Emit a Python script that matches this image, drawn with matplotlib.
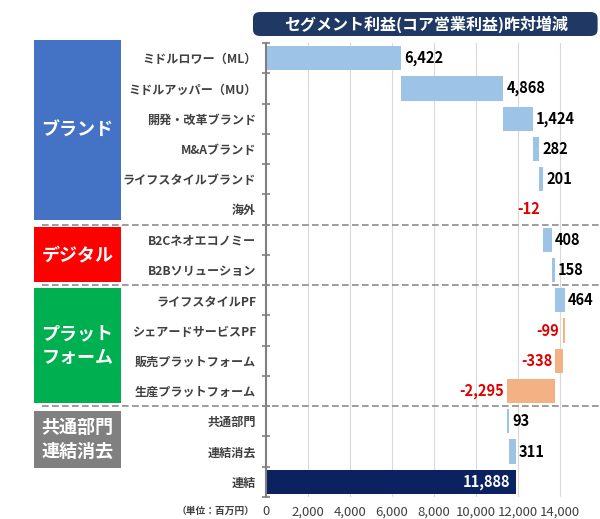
import matplotlib
matplotlib.use("Agg")
import matplotlib.pyplot as plt
import matplotlib.transforms as mtransforms
from matplotlib.patches import FancyBboxPatch, Rectangle
import numpy as np

plt.rcParams["font.family"] = ["Noto Sans CJK JP", "DejaVu Sans"]

# Segment profit change (million yen)
categories = [
    "ミドルロワー（ML）", "ミドルアッパー（MU）", "開発・改革ブランド", "M&Aブランド",
    "ライフスタイルブランド", "海外", "B2Cネオエコノミー", "B2Bソリューション",
    "ライフスタイルPF", "シェアードサービスPF", "販売プラットフォーム", "生産プラットフォーム",
    "共通部門", "連結消去", "連結",
]
changes = [6422, 4868, 1424, 282, 201, -12, 408, 158, 464, -99, -338, -2295, 93, 311]
total = 11888

groups = ["ブランド", "デジタル", "プラット\nフォーム", "共通部門\n連結消去"]
group_colors = ["#4472C4", "#FF0000", "#00B050", "#808080"]

xticks = [0, 2000, 4000, 6000, 8000, 10000, 12000, 14000]

POS = "#9DC3E6"
NEG = "#F4B183"
TOT = "#0B2160"

W, H = 600, 519
fig = plt.figure(figsize=(W / 100, H / 100), dpi=100)


def fx(px):
    return px / W


def fy(py):
    return 1 - py / H


ax_left, ax_right, ax_top, ax_bot = 266, 600, 43, 497
ax = fig.add_axes([fx(ax_left), fy(ax_bot), fx(ax_right - ax_left), (ax_bot - ax_top) / H])

n = len(categories)
y = np.arange(n)
starts = np.concatenate([[0], np.cumsum(changes)[:-1]])
bar_h = 0.8

for i, (s, c) in enumerate(zip(starts, changes)):
    col = POS if c >= 0 else NEG
    left = s if c >= 0 else s + c
    ax.barh(i, abs(c), left=left, height=bar_h, color=col, zorder=3)
    end = s + c
    if c >= 0:
        ax.text(end + 150, i, f"{c:,}", va="center", ha="left", fontsize=10.5,
                fontweight="bold", color="black", zorder=4)
    else:
        ax.text(end - 150, i, f"{c:,}", va="center", ha="right", fontsize=10.5,
                fontweight="bold", color="#E00000", zorder=4)

ax.barh(n - 1, total, left=0, height=bar_h, color=TOT, zorder=3)
ax.text(total - 250, n - 1, f"{total:,}", va="center", ha="right", fontsize=10.5,
        fontweight="bold", color="white", zorder=4)

ax.set_xlim(0, 15900)
ax.set_ylim(n - 0.5, -0.5)
ax.set_xticks(xticks)
ax.set_xticklabels([f"{v:,}" for v in xticks], fontsize=9.5, color="#404040")
ax.set_yticks(y)
ax.set_yticklabels(categories, fontsize=8.7, color="#404040", fontweight="bold")
ax.set_yticks(np.arange(-0.5, n, 1), minor=True)
ax.tick_params(axis="y", which="major", length=0, pad=7)
ax.tick_params(axis="y", which="minor", length=6, direction="inout", color="#808080", width=1.2)
ax.tick_params(axis="x", length=0, pad=6)
ax.grid(axis="x", color="#D9D9D9", linewidth=0.8, zorder=0)
for sp in ["top", "right", "bottom"]:
    ax.spines[sp].set_visible(False)
ax.spines["left"].set_color("#808080")
ax.spines["left"].set_linewidth(1.5)
ax.spines["left"].set_zorder(5)

# dashed separators between groups
blend = mtransforms.blended_transform_factory(fig.transFigure, ax.transData)
for yb in [5.5, 7.5, 11.5]:
    ax.plot([fx(42), fx(600)], [yb, yb], transform=blend, color="#8C8C8C",
            linestyle=(0, (4, 2)), linewidth=1.2, clip_on=False, zorder=6)

# group boxes
box_extents = [(-0.6, 5.35), (5.58, 7.4), (7.59, 11.39), (11.66, 13.54)]
for label, colr, (y0, y1) in zip(groups, group_colors, box_extents):
    rect = Rectangle((fx(34), y0), fx(121) - fx(34), y1 - y0, transform=blend,
                     facecolor=colr, edgecolor="none", clip_on=False)
    ax.add_artist(rect)
    ax.text(fx(77.5), (y0 + y1) / 2, label, transform=blend, ha="center", va="center",
            fontsize=13, fontweight="bold", color="white", linespacing=1.3, clip_on=False)

# title box
title_box = FancyBboxPatch((fx(253), fy(36)), fx(600) - fx(253) - 0.004, (36 - 12) / H,
                           boxstyle="round,pad=0,rounding_size=0.012",
                           transform=fig.transFigure, facecolor="#1F3864", edgecolor="none")
fig.patches.append(title_box)
fig.text(fx(426), fy(24), "セグメント利益(コア営業利益)昨対増減", ha="center", va="center",
         fontsize=11.5, fontweight="bold", color="white")

fig.text(fx(255), fy(511), "（単位：百万円）", ha="right", va="center", fontsize=7,
         fontweight="bold", color="#404040")

fig.savefig("out.png", dpi=100)
